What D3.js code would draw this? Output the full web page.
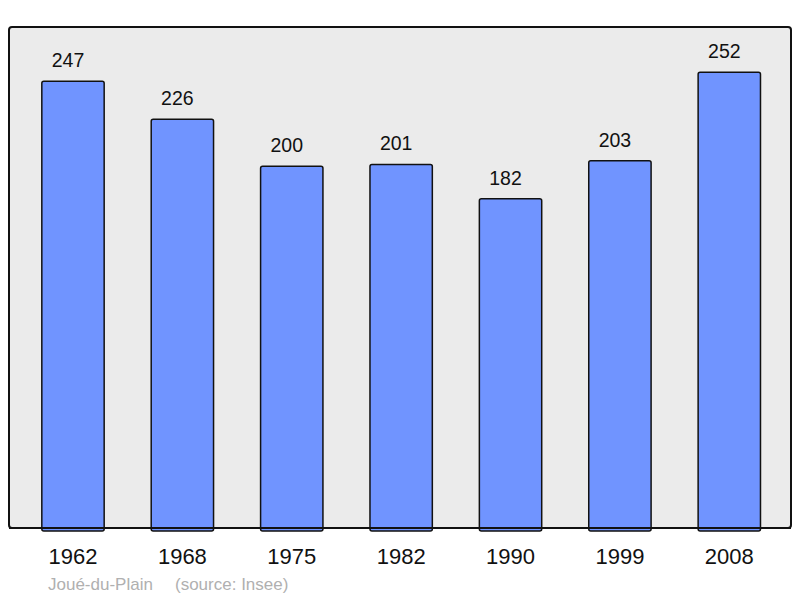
<!DOCTYPE html>
<html><head><meta charset="utf-8">
<script src="https://cdn.jsdelivr.net/npm/d3@7"></script>
<style>body{margin:0;background:#fff}svg{display:block}text{font-family:"Liberation Sans",Arial,sans-serif}</style>
</head><body>
<script>
const years = ["1962","1968","1975","1982","1990","1999","2008"];
const population = [247,226,200,201,182,203,252];
const place = "Joué-du-Plain";
const source = "(source: Insee)";

const W=800,H=598;
const svg=d3.select("body").append("svg").attr("width",W).attr("height",H);
const frame={x0:9,y0:27,x1:791,y1:528};
svg.append("rect").attr("x",frame.x0).attr("y",frame.y0).attr("width",frame.x1-frame.x0).attr("height",frame.y1-frame.y0)
  .attr("rx",3).attr("fill","#ebebeb").attr("stroke","#111").attr("stroke-width",2);

const x=d3.scaleBand().domain(years).range([18.3,784]).paddingInner(0.43).paddingOuter(0.215);
const y=d3.scaleLinear().domain([0,277]).range([frame.y1,frame.y0]);

const g=svg.append("g");
g.selectAll("rect.bar").data(years).join("rect").attr("class","bar")
  .attr("x",d=>x(d)).attr("width",x.bandwidth())
  .attr("y",(d,i)=>y(population[i])).attr("height",(d,i)=>frame.y1-y(population[i])+3)
  .attr("rx",2).attr("fill","#7094ff").attr("stroke","#111").attr("stroke-width",1.5);

// redraw bottom border over bars
svg.append("line").attr("x1",frame.x0).attr("x2",frame.x1).attr("y1",frame.y1).attr("y2",frame.y1).attr("stroke","#111").attr("stroke-width",2);

g.selectAll("text.val").data(years).join("text").attr("class","val")
  .attr("x",d=>x(d)+x.bandwidth()/2-5).attr("y",(d,i)=>y(population[i])-14)
  .attr("text-anchor","middle").attr("font-size",19.5).attr("fill","#111")
  .text((d,i)=>population[i]);

const xAxis=d3.axisBottom(x).tickSize(0).tickPadding(0);
const ax=svg.append("g").attr("transform",`translate(0,${frame.y1})`).call(xAxis);
ax.select(".domain").remove();
ax.selectAll("text").attr("font-size",22).attr("fill","#111").attr("dy",null).attr("y",36)
  .attr("font-family","Liberation Sans, Arial, sans-serif");

svg.append("text").attr("x",48).attr("y",590).attr("font-size",17).attr("fill","#b0b0b0").text(place);
svg.append("text").attr("x",175).attr("y",590).attr("font-size",17).attr("fill","#b0b0b0").text(source);
</script>
</body></html>
